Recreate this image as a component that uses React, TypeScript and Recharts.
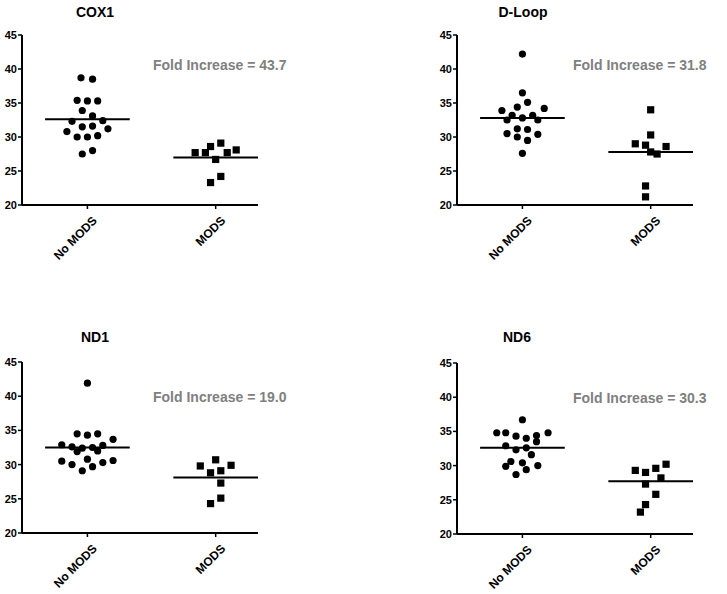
import React from "react";
import { ScatterChart, Scatter, XAxis, YAxis, ReferenceLine } from "recharts";

// groups on the x axis
const categories = ["No MODS", "MODS"];
const yTicks = [20, 25, 30, 35, 40, 45];

// [horizontal spread around the group, value]
const cox1NoMods = [
  [-0.05, 38.7], [0.04, 38.5], [-0.08, 35.4], [0, 35.3], [0.08, 35.3], [-0.04, 33.9],
  [0.04, 33.1], [-0.12, 32.3], [0.12, 32.4], [-0.04, 31.5], [0.04, 31.6], [0.16, 31.2],
  [-0.16, 30.8], [-0.08, 30.0], [0, 30.0], [0.08, 30.2], [-0.04, 27.5], [0.04, 28.0],
];
const cox1Mods = [
  [-0.16, 27.7], [-0.08, 27.7], [-0.04, 28.6], [0.04, 29.1], [0, 26.7],
  [0.09, 27.7], [0.16, 28.1], [-0.04, 23.3], [0.04, 24.2],
];
const dloopNoMods = [
  [0, 42.2], [0, 36.5], [0.04, 35.1], [-0.16, 33.9], [-0.04, 34.4], [0.17, 34.2],
  [-0.08, 33.2], [0.08, 33.2], [-0.12, 32.5], [0, 32.8], [0.12, 32.5], [-0.04, 31.2],
  [0.04, 31.1], [-0.12, 30.5], [0.12, 30.4], [-0.04, 30.0], [0.04, 29.5], [0, 27.6],
];
const dloopMods = [
  [0, 34.0], [0, 30.3], [-0.12, 29.0], [-0.04, 28.8], [0.12, 28.6],
  [0, 27.8], [0.05, 27.5], [-0.04, 22.8], [-0.04, 21.2],
];
const nd1NoMods = [
  [0, 41.9], [-0.08, 34.5], [0, 34.3], [0.08, 34.5], [0.2, 33.7], [-0.2, 32.9],
  [-0.12, 32.6], [-0.04, 32.4], [0.04, 32.5], [0.12, 32.8], [-0.08, 31.9], [0.08, 32.0],
  [-0.2, 30.5], [0, 30.8], [0.2, 30.6], [-0.12, 30.0], [0.12, 30.3], [0.04, 29.7], [-0.04, 29.1],
];
const nd1Mods = [
  [-0.12, 29.8], [0, 30.7], [0.12, 29.9], [-0.04, 28.8], [0.04, 29.1],
  [0.04, 27.3], [-0.04, 24.3], [0.04, 25.1],
];
const nd6NoMods = [
  [0, 36.7], [-0.2, 34.8], [-0.13, 34.8], [-0.05, 34.3], [0.03, 34.0], [0.11, 34.4],
  [0.2, 34.8], [0.11, 33.5], [-0.13, 32.9], [-0.05, 32.3], [0.03, 32.6], [0.07, 31.6],
  [-0.09, 30.6], [0, 30.4], [-0.13, 29.9], [0.12, 30.0], [0.03, 29.4], [-0.05, 28.7],
];
const nd6Mods = [
  [0.12, 30.2], [0.04, 29.6], [-0.12, 29.3], [-0.04, 29.0], [0.08, 28.2],
  [-0.04, 27.3], [0.04, 25.8], [-0.04, 24.3], [-0.08, 23.2],
];

// group means (No MODS, MODS)
const cox1Means = [32.6, 27.0];
const dloopMeans = [32.8, 27.8];
const nd1Means = [32.5, 28.1];
const nd6Means = [32.6, 27.7];

const titles = ["COX1", "D-Loop", "ND1", "ND6"];
const foldIncreases = ["43.7", "31.8", "19.0", "30.3"];

const FONT = "'Liberation Sans', Arial, sans-serif";

const Dot = (props: any) => <circle cx={props.cx} cy={props.cy} r={3.6} fill="#000" />;
const Square = (props: any) => (
  <rect x={props.cx - 3.6} y={props.cy - 3.6} width={7.2} height={7.2} fill="#000" />
);

const XTick = (props: any) => {
  const { x, y, payload } = props;
  return (
    <g transform={`translate(${x + 4},${y + 4})`}>
      <text
        x={0}
        y={0}
        dy={9}
        textAnchor="end"
        transform="rotate(-45)"
        fontSize={12}
        fontWeight="bold"
        fill="#000"
        fontFamily={FONT}
      >
        {categories[payload.value - 1]}
      </text>
    </g>
  );
};

const toPoints = (rows: number[][], group: number) =>
  rows.map(([dx, v]) => ({ x: group + dx, y: v }));

function Panel({ noMods, mods, means, axisX, plotTop, plotH }: any) {
  const half = 0.33;
  return (
    <div style={{ position: "absolute", left: axisX - 22, top: plotTop - 10 }}>
      <ScatterChart
        width={262}
        height={10 + plotH + 60}
        margin={{ top: 10, right: 4, bottom: 0, left: 0 }}
      >
        <XAxis
          type="number"
          dataKey="x"
          domain={[0.49, 2.33]}
          ticks={[1, 2]}
          allowDataOverflow
          height={60}
          tickSize={4}
          tick={<XTick />}
          axisLine={{ stroke: "#000", strokeWidth: 2 }}
          tickLine={{ stroke: "#000", strokeWidth: 1.5 }}
        />
        <YAxis
          type="number"
          dataKey="y"
          domain={[20, 45]}
          ticks={yTicks}
          interval={0}
          width={22}
          tickSize={4}
          tickMargin={1}
          axisLine={{ stroke: "#000", strokeWidth: 2 }}
          tickLine={{ stroke: "#000", strokeWidth: 1.5 }}
          tick={{ fontSize: 11, fontWeight: "bold", fill: "#000", fontFamily: FONT }}
        />
        <ReferenceLine
          segment={[{ x: 1 - half, y: means[0] }, { x: 1 + half, y: means[0] }]}
          stroke="#000"
          strokeWidth={2}
        />
        <ReferenceLine
          segment={[{ x: 2 - half, y: means[1] }, { x: 2 + half, y: means[1] }]}
          stroke="#000"
          strokeWidth={2}
          ifOverflow="visible"
        />
        <Scatter data={toPoints(noMods, 1)} shape={Dot} isAnimationActive={false} />
        <Scatter data={toPoints(mods, 2)} shape={Square} isAnimationActive={false} />
      </ScatterChart>
    </div>
  );
}

const textStyle: React.CSSProperties = {
  position: "absolute",
  fontFamily: FONT,
  fontWeight: "bold",
  fontSize: 14,
  lineHeight: "16px",
  whiteSpace: "nowrap",
};

export default function App() {
  const panels = [
    { noMods: cox1NoMods, mods: cox1Mods, means: cox1Means, axisX: 22, plotTop: 35, plotH: 170, titleX: 95, titleY: 12, foldX: 153, foldY: 65 },
    { noMods: dloopNoMods, mods: dloopMods, means: dloopMeans, axisX: 457, plotTop: 35, plotH: 170, titleX: 523, titleY: 12, foldX: 573, foldY: 65 },
    { noMods: nd1NoMods, mods: nd1Mods, means: nd1Means, axisX: 22, plotTop: 362, plotH: 171, titleX: 95, titleY: 337, foldX: 153, foldY: 397 },
    { noMods: nd6NoMods, mods: nd6Mods, means: nd6Means, axisX: 457, plotTop: 363, plotH: 171, titleX: 517, titleY: 337, foldX: 573, foldY: 398 },
  ];
  return (
    <div
      style={{
        position: "absolute",
        left: 0,
        top: 0,
        width: 727,
        height: 594,
        background: "#fff",
        overflow: "hidden",
      }}
    >
      {panels.map((p, i) => (
        <React.Fragment key={titles[i]}>
          <Panel {...p} />
          <div
            style={{
              ...textStyle,
              left: p.titleX - 50,
              top: p.titleY - 8,
              width: 100,
              textAlign: "center",
              color: "#000",
            }}
          >
            {titles[i]}
          </div>
          <div style={{ ...textStyle, left: p.foldX, top: p.foldY - 8, color: "#808080" }}>
            {`Fold Increase = ${foldIncreases[i]}`}
          </div>
        </React.Fragment>
      ))}
    </div>
  );
}
